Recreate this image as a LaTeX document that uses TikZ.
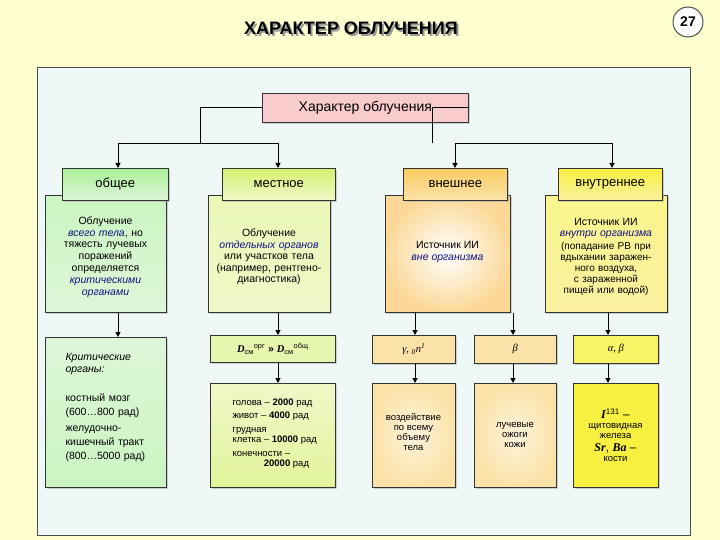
\documentclass[tikz,border=0pt]{standalone}
\usepackage{fontspec}
\setmainfont{Liberation Sans}
\newfontfamily\serifit{Liberation Serif}
\usetikzlibrary{shadows,arrows.meta}
\definecolor{bgY}{HTML}{FFFFD0}
\definecolor{panel}{HTML}{EEF8F6}
\definecolor{rootc}{HTML}{F8CCCC}
\definecolor{gH}{HTML}{A8EE98}\definecolor{gB}{HTML}{DDF6D8}
\definecolor{lH}{HTML}{D6F070}\definecolor{lB}{HTML}{EEF8C8}
\definecolor{oH}{HTML}{F8CC60}\definecolor{oB}{HTML}{FBE2A8}
\definecolor{yH}{HTML}{F8F040}\definecolor{yB}{HTML}{FAF0A0}
\definecolor{nav}{HTML}{101080}
\tikzset{
 bx/.style={draw=black!80,line width=0.6pt,anchor=north west,align=center,inner sep=2pt,drop shadow={shadow xshift=2pt,shadow yshift=-2pt,fill=black!35}},
 ar/.style={line width=1pt,-{Triangle[length=5pt,width=5pt]}},
 ln/.style={line width=0.8pt},
}
\newcommand{\bi}[1]{{\color{nav}\itshape #1}}
\newcommand{\sbi}[1]{{\serifit\bfseries\itshape #1}}
\begin{document}
\begin{tikzpicture}[x=1pt,y=-1pt,font=\fontsize{10.5}{11.5}\selectfont]
\useasboundingbox (0,0) rectangle (720,540);
\fill[bgY] (0,0) rectangle (720,540);
\draw[black!70,fill=panel] (37,67) rectangle (690,535);
\node[text=black!40,font=\fontsize{18}{20}\selectfont\bfseries] at (353,30) {ХАРАКТЕР ОБЛУЧЕНИЯ};
\node (title) [font=\fontsize{18}{20}\selectfont\bfseries] at (351,28) {ХАРАКТЕР ОБЛУЧЕНИЯ};
\node (num) [circle,draw=black!70,line width=1pt,fill=white,minimum size=30pt,font=\fontsize{14}{16}\selectfont\bfseries] at (688,22) {27};
% root
\node (root) [bx,fill=rootc,minimum width=206pt,minimum height=29pt,font=\fontsize{14}{16}\selectfont] at (262,93) {Характер облучения};
% bodies
\node (b1) [bx,top color=gH!60,bottom color=gB,minimum width=121pt,minimum height=117pt] at (45,195) {};
\node at (105.5,257) [align=center,text width=115pt,font=\fontsize{10.5}{11.8}\selectfont] {Облучение\\ \bi{всего тела}, но тяжесть лучевых поражений определяется \bi{критическими органами}};
\node (b2) [bx,top color=lH!50,bottom color=lB,minimum width=122pt,minimum height=117pt] at (208,195) {};
\node at (269,257) [align=center,text width=115pt] {Облучение\\ \bi{отдельных органов} или участков тела (например, рентгено-\\диагностика)};
\node (b3) [bx,inner color=white,outer color=oB!90!orange,minimum width=125pt,minimum height=117pt] at (385,195) {};
\node at (447.5,252) [align=center] {Источник ИИ\\ \bi{вне организма}};
\node (b4) [bx,top color=yH!60,bottom color=yB,minimum width=122pt,minimum height=117pt] at (545,195) {};
\node at (606,257) [align=center,text width=118pt,font=\fontsize{10}{11}\selectfont] {{\fontsize{10.5}{11.5}\selectfont Источник ИИ\\ \bi{внутри организма}}\\[2pt] (попадание РВ при вдыхании заражен-\\ного воздуха,\\ с зараженной\\ пищей или водой)};
% headers
\node (h1) [bx,top color=gH,bottom color=gB,minimum width=106pt,minimum height=32pt,font=\fontsize{13}{15}\selectfont] at (62,168) {общее};
\node (h2) [bx,top color=lH,bottom color=lB,minimum width=113pt,minimum height=32pt,font=\fontsize{13}{15}\selectfont] at (222,168) {местное};
\node (h3) [bx,top color=oH,bottom color=oB,minimum width=104pt,minimum height=32pt,font=\fontsize{13}{15}\selectfont] at (403,168) {внешнее};
\node (h4) [bx,top color=yH,bottom color=yB,minimum width=104pt,minimum height=32pt,font=\fontsize{13}{15}\selectfont] at (558,168) {внутреннее};
% row 3
\node (c1) [bx,top color=gB,bottom color=gH!60,minimum width=121pt,minimum height=150pt] at (45,337) {};
\node at (62,350) [anchor=north west,align=left,text width=100pt] {\itshape Критические\\ органы:};
\node at (62,390) [anchor=north west,align=left,text width=104pt,font=\fontsize{10.5}{14}\selectfont] {костный мозг\\ (600…800 рад)\\[2pt] желудочно-\\кишечный тракт\\ (800…5000 рад)};
\node (d) [bx,fill=lB!70!lH,minimum width=125pt,minimum height=27pt] at (210,335) {\sbi{D}\textsubscript{см}\textsuperscript{орг} \textbf{>>} \sbi{D}\textsubscript{см}\textsuperscript{общ}};
\node (g) [bx,fill=oB,minimum width=83pt,minimum height=28pt] at (372,335) {\serifit\itshape γ, \textsubscript{0}n\textsuperscript{1}};
\node (be) [bx,fill=oB,minimum width=82pt,minimum height=28pt] at (474,335) {\serifit\itshape β};
\node (al) [bx,fill=yH!80,minimum width=85pt,minimum height=28pt] at (573,335) {\serifit\itshape α, β};
% row 4
\node (d2) [bx,top color=lB,bottom color=lH!70,minimum width=125pt,minimum height=104pt] at (210,383) {};
\node at (229,395) [anchor=north west,align=left,font=\fontsize{9.5}{10.5}\selectfont] {голова – \textbf{2000} рад\\[3pt] живот – \textbf{4000} рад\\[3pt] грудная\\ клетка – \textbf{10000} рад\\[3pt] конечности –\\ \hspace*{3.3em}\textbf{20000} рад};
\node (r1) [bx,inner color=oB!40,outer color=oB,minimum width=83pt,minimum height=104pt] at (372,383) {};
\node at (413.5,432) [align=center,font=\fontsize{9.5}{10}\selectfont] {воздействие\\ по всему\\ объему\\ тела};
\node (r2) [bx,inner color=oB!40,outer color=oB,minimum width=82pt,minimum height=104pt] at (474,383) {};
\node at (515,435) [align=center,font=\fontsize{9.5}{10}\selectfont] {лучевые\\ ожоги\\ кожи};
\node (r3) [bx,fill=yH,minimum width=85pt,minimum height=104pt] at (573,383) {};
\node at (615.5,435) [align=center,font=\fontsize{9.5}{10}\selectfont] {{\fontsize{12}{13}\selectfont\sbi{I}\textsuperscript{131} –}\\ щитовидная\\ железа\\[3pt] {\fontsize{12}{13}\selectfont\sbi{Sr}, \sbi{Ba} –}\\ кости};
% connectors
\draw[ln] (root.west |- 0,107) -- (200,107) -- (200,143);
\draw[ln] (118,143) -- (278,143);
\draw[ar] (118,143) -- (h1.north -| 118,0);
\draw[ar] (278,143) -- (h2.north -| 278,0);
\draw[ln] (root.east |- 0,107) -- (432,107) -- (432,143);
\draw[ln] (455,143) -- (612,143);
\draw[ar] (455,143) -- (h3.north -| 455,0);
\draw[ar] (612,143) -- (h4.north -| 612,0);
\draw[ar] (b1.south -| 118,0) -- (c1.north -| 118,0);
\draw[ar] (b2.south -| 278,0) -- (d.north -| 278,0);
\draw[ar] (d.south -| 278,0) -- (d2.north -| 278,0);
\draw[ar] (b3.south -| 415,0) -- (g.north -| 415,0);
\draw[ar] (b3.south -| 513,0) -- (be.north -| 513,0);
\draw[ar] (b4.south -| 608,0) -- (al.north -| 608,0);
\draw[ar] (g.south -| 415,0) -- (r1.north -| 415,0);
\draw[ar] (be.south -| 513,0) -- (r2.north -| 513,0);
\draw[ar] (al.south -| 608,0) -- (r3.north -| 608,0);
\end{tikzpicture}
\end{document}
